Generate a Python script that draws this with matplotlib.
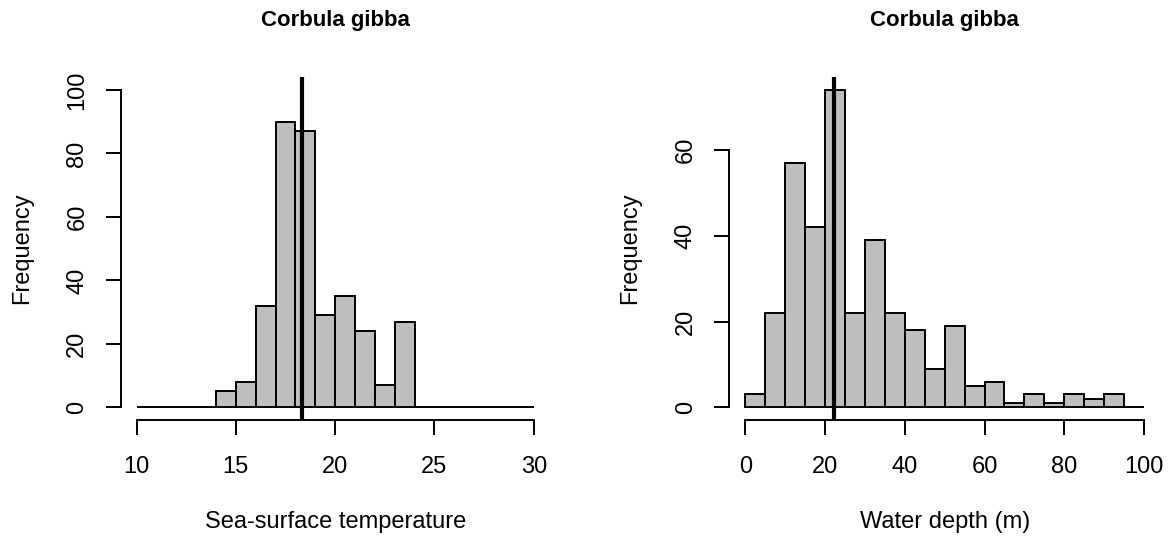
import matplotlib
matplotlib.use("Agg")
import matplotlib.pyplot as plt
import numpy as np

plt.rcParams['font.family'] = ['Liberation Sans', 'DejaVu Sans']

# ---- data ----
title_text = "Corbula gibba"

sst_edges_start = 10
sst_bin_width = 1
sst_counts = [0, 0, 0, 0, 5, 8, 32, 90, 87, 29, 35, 24, 7, 27, 0, 0, 0, 0, 0, 0]
sst_mark = 18.35
sst_xticks = [10, 15, 20, 25, 30]
sst_yticks = [0, 20, 40, 60, 80, 100]
sst_xlabel = "Sea-surface temperature"

depth_edges_start = 0
depth_bin_width = 5
depth_counts = [3, 22, 57, 42, 74, 22, 39, 22, 18, 9, 19, 5, 6, 1, 3, 1, 3, 2, 3, 0]
depth_mark = 22.2
depth_xticks = [0, 20, 40, 60, 80, 100]
depth_yticks = [0, 20, 40, 60]
depth_xlabel = "Water depth (m)"

ylabel_text = "Frequency"

W, H = 1173, 540
fig = plt.figure(figsize=(W / 100, H / 100), dpi=100)

LW = 1.4
FS = 17
FS_TITLE = 16
BAR_COLOR = "#bebebe"


def r_lim(lo, hi):
    d = (hi - lo) * 0.04
    return lo - d, hi + d


def draw(ax, start, width, counts, mark, xticks, yticks, ylim_hi, xlabel):
    counts = np.asarray(counts, dtype=float)
    lefts = start + width * np.arange(len(counts))
    ax.bar(lefts, counts, width=width, align='edge', color=BAR_COLOR,
           edgecolor='black', linewidth=LW, zorder=2)
    ax.axvline(mark, color='black', linewidth=3.0, zorder=3,
               solid_capstyle='butt')
    ax.set_xlim(*r_lim(xticks[0], xticks[-1]))
    ax.set_ylim(*r_lim(0, ylim_hi))
    for s in ('top', 'right'):
        ax.spines[s].set_visible(False)
    ax.spines['left'].set_bounds(yticks[0], yticks[-1])
    ax.spines['bottom'].set_bounds(xticks[0], xticks[-1])
    for s in ('left', 'bottom'):
        ax.spines[s].set_linewidth(LW)
    ax.set_xticks(xticks)
    ax.set_yticks(yticks)
    ax.set_xticklabels([str(t) for t in xticks], fontsize=FS)
    ax.set_yticklabels([str(t) for t in yticks], fontsize=FS,
                       rotation=90, va='center')
    ax.tick_params(axis='both', direction='out', length=10.8, width=LW)
    ax.tick_params(axis='x', pad=15)
    ax.tick_params(axis='y', pad=12.5)
    ax.set_xlabel(xlabel, fontsize=FS)
    ax.xaxis.set_label_coords(0.5, -0.266)
    ax.set_ylabel(ylabel_text, fontsize=FS)
    ax.yaxis.set_label_coords(-0.2045, 0.5)
    ax.set_title(title_text, fontsize=FS_TITLE, fontweight='bold', pad=37)
    ax.patch.set_visible(False)


ax1 = fig.add_axes([120.7 / W, 120 / H, 428.9 / W, 342.7 / H])
draw(ax1, sst_edges_start, sst_bin_width, sst_counts, sst_mark,
     sst_xticks, sst_yticks, 100, sst_xlabel)

ax2 = fig.add_axes([729.3 / W, 120 / H, 430.7 / W, 342.7 / H])
draw(ax2, depth_edges_start, depth_bin_width, depth_counts, depth_mark,
     depth_xticks, depth_yticks, max(depth_counts), depth_xlabel)

fig.savefig("out.png", dpi=100, facecolor='white')
